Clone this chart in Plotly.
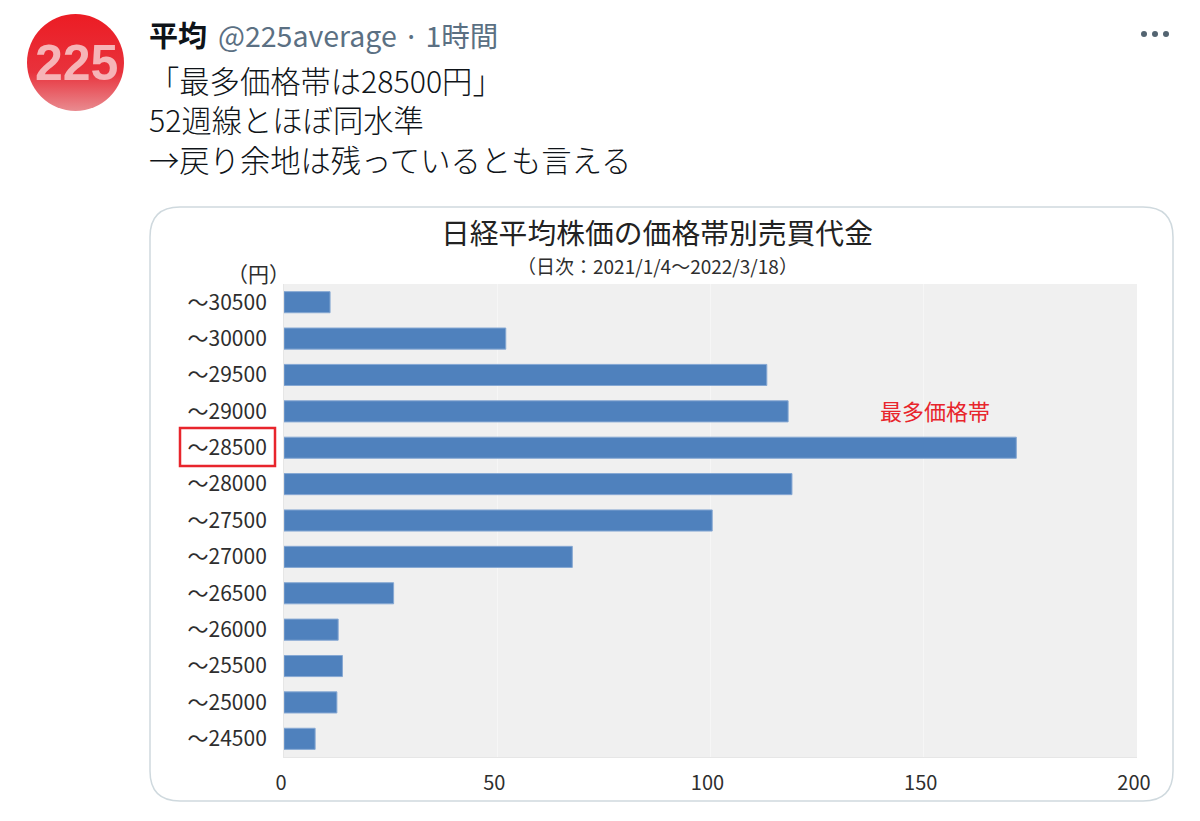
import base64
import plotly.graph_objects as go

W = 1200
H = 821

# datos
precios = ['〜30500', '〜30000', '〜29500', '〜29000', '〜28500', '〜28000', '〜27500',
           '〜27000', '〜26500', '〜26000', '〜25500', '〜25000', '〜24500']
valores = [10.8, 52.0, 113.2, 118.2, 171.7, 119.1, 100.4, 67.6, 25.7, 12.7, 13.7, 12.4, 7.3]
ticks_x = [0, 50, 100, 150, 200]

FUENTE = 'Noto Sans CJK JP'
GRIS = '#2e2e2e'


# pixeles de la captura a coordenadas paper
def px(x):
    return x / W


def py(y):
    return 1 - y / H


def texto(x, y, t, size, color='#0f1419', anchor='left', weight=None, family=FUENTE):
    fig.add_annotation(xref='paper', yref='paper', x=px(x), y=py(y), text=t, showarrow=False,
                       xanchor=anchor, yanchor='middle', align='left',
                       font=dict(family=family, size=size, color=color, weight=weight))


fig = go.Figure(go.Bar(
    x=valores,
    y=precios,
    orientation='h',
    marker=dict(color='#4f81bd', line=dict(color='#86a8d3', width=1)),
    hoverinfo='skip',
))

fig.update_xaxes(
    domain=[px(284), px(1137)],
    range=[0, 200],
    tickvals=ticks_x,
    automargin=False,
    showgrid=True,
    gridcolor='#f6f6f6',
    gridwidth=1,
    zeroline=False,
    showline=True,
    linecolor='#e6e6e6',
    ticks='',
    ticklabelstandoff=8,
    ticklabelshift=-3,
    tickfont=dict(family=FUENTE, size=20, color=GRIS),
)
fig.update_yaxes(
    domain=[py(757), py(284)],
    autorange='reversed',
    automargin=False,
    showgrid=False,
    showline=True,
    linecolor='#e6e6e6',
    ticks='',
    ticklabelstandoff=12,
    tickfont=dict(family=FUENTE, size=21, color=GRIS),
)

# tarjeta con esquinas redondeadas
x0, x1, y0, y1, r = 150, 1173, 207, 801, 30
rx, ry = r / W, r / H
tarjeta = (f'M {px(x0) + rx} {py(y0)} L {px(x1) - rx} {py(y0)} Q {px(x1)} {py(y0)} {px(x1)} {py(y0) - ry} '
           f'L {px(x1)} {py(y1) + ry} Q {px(x1)} {py(y1)} {px(x1) - rx} {py(y1)} '
           f'L {px(x0) + rx} {py(y1)} Q {px(x0)} {py(y1)} {px(x0)} {py(y1) + ry} '
           f'L {px(x0)} {py(y0) - ry} Q {px(x0)} {py(y0)} {px(x0) + rx} {py(y0)} Z')
fig.add_shape(type='path', path=tarjeta, xref='paper', yref='paper',
              line=dict(color='#cfd9de', width=1.5), layer='below')

# recuadro rojo del 28500
fig.add_shape(type='rect', xref='paper', yref='paper', x0=px(180), x1=px(275), y0=py(428), y1=py(466),
              line=dict(color='#e8252c', width=2.5))

# los tres puntos de arriba a la derecha
for cx in [1144, 1155, 1166]:
    fig.add_shape(type='circle', xref='paper', yref='paper', x0=px(cx - 3), x1=px(cx + 3),
                  y0=py(37), y1=py(31), fillcolor='#536471', line_width=0)

# avatar con degradado
svg = ('<svg xmlns="http://www.w3.org/2000/svg" width="97" height="97">'
       '<defs><linearGradient id="g" x1="0" y1="0" x2="0" y2="1">'
       '<stop offset="0" stop-color="#ec1c24"/><stop offset="0.6" stop-color="#e8323c"/>'
       '<stop offset="1" stop-color="#e98b90"/></linearGradient></defs>'
       '<circle cx="48.5" cy="48.5" r="48.5" fill="url(#g)"/></svg>')
fig.add_layout_image(source='data:image/svg+xml;base64,' + base64.b64encode(svg.encode()).decode(),
                     xref='paper', yref='paper', x=px(27), y=py(14), sizex=97 / W, sizey=97 / H,
                     xanchor='left', yanchor='top', layer='below')

texto(76, 63, '225', 50, color='#f6b4b7', anchor='center', weight='bold', family='Liberation Sans')
texto(147, 34, '平均', 29, weight='bold')
texto(216, 35, '@225average · 1時間', 28.5, color='#5b7083')
texto(147, 120, '「最多価格帯は28500円」<br>52週線とほぼ同水準<br>→戻り余地は残っているとも言える', 30.3, weight=300)

texto(657, 232, '日経平均株価の価格帯別売買代金', 28.8, color='#222222', anchor='center')
texto(657, 265, '（日次：2021/1/4〜2022/3/18）', 19, color=GRIS, anchor='center')
texto(258, 273, '（円）', 21, color=GRIS, anchor='center')
texto(935, 410, '最多価格帯', 22, color='#e8252c', anchor='center')

fig.update_layout(
    width=W,
    height=H,
    margin=dict(l=0, r=0, t=0, b=0, autoexpand=False),
    paper_bgcolor='white',
    plot_bgcolor='#f0f0f0',
    bargap=0.42,
    showlegend=False,
    font=dict(family=FUENTE),
)

# sin margen del body para que coincida con la captura
fig.write_html("out.html", config={'displayModeBar': False},
               post_script="document.body.style.margin='0';document.body.style.overflow='hidden';")
